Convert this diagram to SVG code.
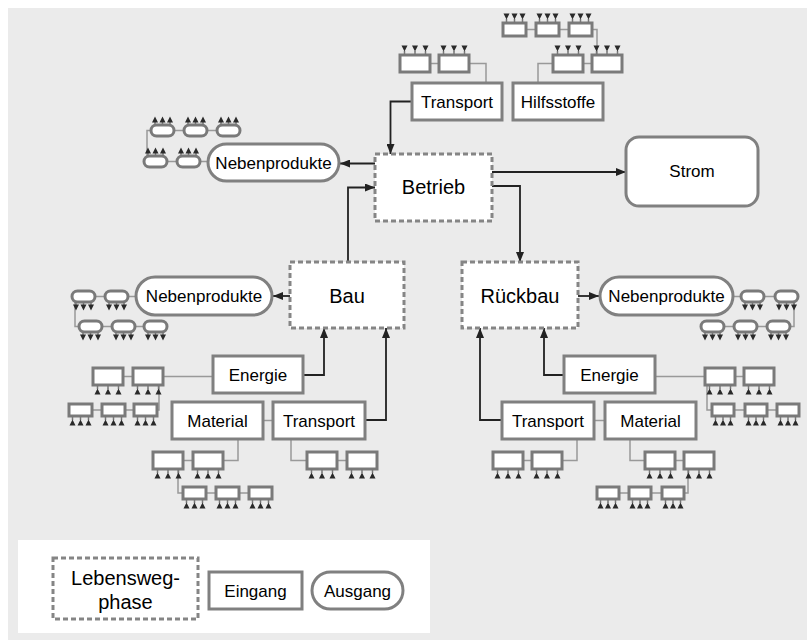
<svg xmlns="http://www.w3.org/2000/svg" xmlns:xlink="http://www.w3.org/1999/xlink" width="807" height="640" viewBox="0 0 807 640">
<style>
.bg{fill:#ebebeb}
.phase{fill:#fff;stroke:#858585;stroke-width:3;stroke-dasharray:5,3}
.box{fill:#fff;stroke:#808080;stroke-width:3}
.sb{fill:#fff;stroke:#7a7a7a;stroke-width:3}
.thin{fill:none;stroke:#999;stroke-width:1.5}
.arr{fill:none;stroke:#222;stroke-width:1.8;marker-end:url(#ah)}
.stem{stroke:#777;stroke-width:1.5}
.tri{fill:#2a2a2a}
text{font-family:"Liberation Sans",Arial,sans-serif;fill:#000;text-anchor:middle}
.t20{font-size:20px}
.t17{font-size:17px}
</style>
<defs>
<marker id="ah" markerWidth="10" markerHeight="8" refX="10" refY="4" orient="auto" markerUnits="userSpaceOnUse"><path d="M0,0 L10,4 L0,8 z" fill="#222"/></marker>
<g id="inTop"><line class="stem" x1="0" y1="0" x2="0" y2="-4"/><path class="tri" d="M-3,-9.5 L3,-9.5 L0,-3.5 z"/></g>
<g id="inBot"><line class="stem" x1="0" y1="0" x2="0" y2="4"/><path class="tri" d="M-3,9.5 L3,9.5 L0,3.5 z"/></g>
<g id="outTop"><line class="stem" x1="0" y1="0" x2="0" y2="-3"/><path class="tri" d="M-3,-2.5 L3,-2.5 L0,-8.5 z"/></g>
<g id="outBot"><line class="stem" x1="0" y1="0" x2="0" y2="3"/><path class="tri" d="M-3,2.5 L3,2.5 L0,8.5 z"/></g>
</defs>
<rect class="bg" x="8" y="8" width="799" height="632"/>

<g id="connectors">
<path class="arr" d="M412,101.5 H390.5 V154"/>
<path class="arr" d="M375,163.5 H340"/>
<path class="arr" d="M348,262 V187.5 H375"/>
<path class="arr" d="M492,172 H626"/>
<path class="arr" d="M492,186 H520 V262"/>
<path class="arr" d="M290,296 H273"/>
<path class="arr" d="M578,296 H599"/>
<path class="arr" d="M303,375 H324 V328"/>
<path class="arr" d="M365,420 H386 V328"/>
<path class="arr" d="M564,375 H544 V328"/>
<path class="arr" d="M502,420 H480 V328"/>
<path class="thin" d="M263,420.5 H273"/>
<path class="thin" d="M594,420.5 H605"/>
<path class="thin" d="M430,63.5 H439 M469,63.5 H486 V83"/>
<path class="thin" d="M583,63.5 H592 M553,63.5 H538 V83 M526,29.5 H536 M559,29.5 H569 M592,29.5 H597 V55"/>
<path class="thin" d="M167,161.5 H177 M200,161.5 H208 M174,130.5 H184 M207,130.5 H217 M151,130.5 H147 V156"/>
<path class="thin" d="M95,296.5 H105 M128,296.5 H136 M102,326.5 H112 M135,326.5 H144 M75,302 V326.5 H79"/>
<path class="thin" d="M732,296.5 H741 M764,296.5 H775 M724,326.5 H734 M757,326.5 H767 M794,302 V326.5 H790"/>
<path class="thin" d="M123,376.5 H133 M163,376.5 H213 M92,410 H102 M125,410 H134 M157,410 H159 V385"/>
<path class="thin" d="M183,460.5 H193 M223,460.5 H238 V439 M206,493 H216 M239,493 H249 M183,493 H178 V469"/>
<path class="thin" d="M337,460.5 H347 M307,460.5 H291 V439"/>
<path class="thin" d="M655,376.5 H705 M735,376.5 H744 M734,410 H745 M767,410 H777 M707,385 V410 H712"/>
<path class="thin" d="M523,460.5 H532 M562,460.5 H577 V439"/>
<path class="thin" d="M630,439 V460.5 H645 M675,460.5 H684 M619,493 H629 M651,493 H662 M684,493 H688 V469"/>
</g>

<g id="betrieb"><rect class="phase" x="375" y="154" width="117" height="67"/><text class="t20" x="433.5" y="194">Betrieb</text></g>
<g id="bau"><rect class="phase" x="290" y="262" width="114" height="66"/><text class="t20" x="347" y="303">Bau</text></g>
<g id="rueckbau"><rect class="phase" x="462" y="262" width="116" height="66"/><text class="t20" x="520" y="303">Rückbau</text></g>
<g id="strom"><rect class="box" x="626" y="137" width="132" height="69" rx="13"/><text class="t17" x="692" y="177">Strom</text></g>

<g id="neb-betrieb"><rect class="box" x="208" y="144" width="131" height="37" rx="18.5"/><text class="t17" x="273.5" y="168.5">Nebenprodukte</text></g>
<g id="neb-bau"><rect class="box" x="136" y="277" width="136" height="38" rx="19"/><text class="t17" x="204" y="302">Nebenprodukte</text></g>
<g id="neb-rueckbau"><rect class="box" x="600" y="277" width="133" height="38" rx="19"/><text class="t17" x="666.5" y="302">Nebenprodukte</text></g>

<g id="transport-betrieb"><rect class="box" x="412" y="83" width="90" height="37"/><text class="t17" x="457" y="107.5">Transport</text></g>
<g id="hilfsstoffe"><rect class="box" x="513" y="83" width="90" height="37"/><text class="t17" x="558" y="107.5">Hilfsstoffe</text></g>
<g id="energie-bau"><rect class="box" x="213" y="356" width="90" height="37"/><text class="t17" x="258" y="380.5">Energie</text></g>
<g id="material-bau"><rect class="box" x="172" y="402" width="91" height="37"/><text class="t17" x="217.5" y="426.5">Material</text></g>
<g id="transport-bau"><rect class="box" x="273" y="402" width="92" height="37"/><text class="t17" x="319" y="426.5">Transport</text></g>
<g id="energie-rueckbau"><rect class="box" x="564" y="356" width="91" height="37"/><text class="t17" x="609.5" y="380.5">Energie</text></g>
<g id="transport-rueckbau"><rect class="box" x="502" y="402" width="92" height="37"/><text class="t17" x="548" y="426.5">Transport</text></g>
<g id="material-rueckbau"><rect class="box" x="605" y="402" width="91" height="37"/><text class="t17" x="650.5" y="426.5">Material</text></g>

<g id="sub-transport-betrieb">
<rect class="sb" x="400" y="55" width="30" height="17"/><use href="#inTop" x="404.5" y="55"/><use href="#inTop" x="415" y="55"/><use href="#inTop" x="425.5" y="55"/>
<rect class="sb" x="439" y="55" width="30" height="17"/><use href="#inTop" x="443.5" y="55"/><use href="#inTop" x="454" y="55"/><use href="#inTop" x="464.5" y="55"/>
</g>
<g id="sub-hilfsstoffe">
<rect class="sb" x="553" y="55" width="30" height="17"/><use href="#inTop" x="557.5" y="55"/><use href="#inTop" x="568" y="55"/><use href="#inTop" x="578.5" y="55"/>
<rect class="sb" x="592" y="55" width="30" height="17"/><use href="#inTop" x="596.5" y="55"/><use href="#inTop" x="607" y="55"/><use href="#inTop" x="617.5" y="55"/>
<rect class="sb" x="503" y="23" width="23" height="13"/><use href="#inTop" x="506.5" y="23"/><use href="#inTop" x="514.5" y="23"/><use href="#inTop" x="522.5" y="23"/>
<rect class="sb" x="536" y="23" width="23" height="13"/><use href="#inTop" x="539.5" y="23"/><use href="#inTop" x="547.5" y="23"/><use href="#inTop" x="555.5" y="23"/>
<rect class="sb" x="569" y="23" width="23" height="13"/><use href="#inTop" x="572.5" y="23"/><use href="#inTop" x="580.5" y="23"/><use href="#inTop" x="588.5" y="23"/>
</g>
<g id="sub-neb-betrieb">
<rect class="sb" x="144" y="156" width="23" height="11" rx="5.5"/><use href="#outTop" x="148" y="156"/><use href="#outTop" x="155.5" y="156"/><use href="#outTop" x="163" y="156"/>
<rect class="sb" x="177" y="156" width="23" height="11" rx="5.5"/><use href="#outTop" x="181" y="156"/><use href="#outTop" x="188.5" y="156"/><use href="#outTop" x="196" y="156"/>
<rect class="sb" x="151" y="125" width="23" height="11" rx="5.5"/><use href="#outTop" x="155" y="125"/><use href="#outTop" x="162.5" y="125"/><use href="#outTop" x="170" y="125"/>
<rect class="sb" x="184" y="125" width="23" height="11" rx="5.5"/><use href="#outTop" x="188" y="125"/><use href="#outTop" x="195.5" y="125"/><use href="#outTop" x="203" y="125"/>
<rect class="sb" x="217" y="125" width="23" height="11" rx="5.5"/><use href="#outTop" x="221" y="125"/><use href="#outTop" x="228.5" y="125"/><use href="#outTop" x="236" y="125"/>
</g>
<g id="sub-neb-bau">
<rect class="sb" x="72" y="291" width="23" height="11" rx="5.5"/><use href="#outBot" x="76" y="302"/><use href="#outBot" x="83.5" y="302"/><use href="#outBot" x="91" y="302"/>
<rect class="sb" x="105" y="291" width="23" height="11" rx="5.5"/><use href="#outBot" x="109" y="302"/><use href="#outBot" x="116.5" y="302"/><use href="#outBot" x="124" y="302"/>
<rect class="sb" x="79" y="321" width="23" height="11" rx="5.5"/><use href="#outBot" x="83" y="332"/><use href="#outBot" x="90.5" y="332"/><use href="#outBot" x="98" y="332"/>
<rect class="sb" x="112" y="321" width="23" height="11" rx="5.5"/><use href="#outBot" x="116" y="332"/><use href="#outBot" x="123.5" y="332"/><use href="#outBot" x="131" y="332"/>
<rect class="sb" x="144" y="321" width="23" height="11" rx="5.5"/><use href="#outBot" x="148" y="332"/><use href="#outBot" x="155.5" y="332"/><use href="#outBot" x="163" y="332"/>
</g>
<g id="sub-neb-rueckbau">
<rect class="sb" x="741" y="291" width="23" height="11" rx="5.5"/><use href="#outBot" x="745" y="302"/><use href="#outBot" x="752.5" y="302"/><use href="#outBot" x="760" y="302"/>
<rect class="sb" x="775" y="291" width="23" height="11" rx="5.5"/><use href="#outBot" x="779" y="302"/><use href="#outBot" x="786.5" y="302"/><use href="#outBot" x="794" y="302"/>
<rect class="sb" x="701" y="321" width="23" height="11" rx="5.5"/><use href="#outBot" x="705" y="332"/><use href="#outBot" x="712.5" y="332"/><use href="#outBot" x="720" y="332"/>
<rect class="sb" x="734" y="321" width="23" height="11" rx="5.5"/><use href="#outBot" x="738" y="332"/><use href="#outBot" x="745.5" y="332"/><use href="#outBot" x="753" y="332"/>
<rect class="sb" x="767" y="321" width="23" height="11" rx="5.5"/><use href="#outBot" x="771" y="332"/><use href="#outBot" x="778.5" y="332"/><use href="#outBot" x="786" y="332"/>
</g>
<g id="sub-energie-bau">
<rect class="sb" x="93" y="368" width="30" height="17"/><use href="#inBot" x="97.5" y="385"/><use href="#inBot" x="108" y="385"/><use href="#inBot" x="118.5" y="385"/>
<rect class="sb" x="133" y="368" width="30" height="17"/><use href="#inBot" x="137.5" y="385"/><use href="#inBot" x="148" y="385"/><use href="#inBot" x="158.5" y="385"/>
<rect class="sb" x="69" y="404" width="23" height="12"/><use href="#inBot" x="72.5" y="416"/><use href="#inBot" x="80.5" y="416"/><use href="#inBot" x="88.5" y="416"/>
<rect class="sb" x="102" y="404" width="23" height="12"/><use href="#inBot" x="105.5" y="416"/><use href="#inBot" x="113.5" y="416"/><use href="#inBot" x="121.5" y="416"/>
<rect class="sb" x="134" y="404" width="23" height="12"/><use href="#inBot" x="137.5" y="416"/><use href="#inBot" x="145.5" y="416"/><use href="#inBot" x="153.5" y="416"/>
</g>
<g id="sub-material-bau">
<rect class="sb" x="153" y="452" width="30" height="17"/><use href="#inBot" x="157.5" y="469"/><use href="#inBot" x="168" y="469"/><use href="#inBot" x="178.5" y="469"/>
<rect class="sb" x="193" y="452" width="30" height="17"/><use href="#inBot" x="197.5" y="469"/><use href="#inBot" x="208" y="469"/><use href="#inBot" x="218.5" y="469"/>
<rect class="sb" x="183" y="487" width="23" height="12"/><use href="#inBot" x="186.5" y="499"/><use href="#inBot" x="194.5" y="499"/><use href="#inBot" x="202.5" y="499"/>
<rect class="sb" x="216" y="487" width="23" height="12"/><use href="#inBot" x="219.5" y="499"/><use href="#inBot" x="227.5" y="499"/><use href="#inBot" x="235.5" y="499"/>
<rect class="sb" x="249" y="487" width="23" height="12"/><use href="#inBot" x="252.5" y="499"/><use href="#inBot" x="260.5" y="499"/><use href="#inBot" x="268.5" y="499"/>
</g>
<g id="sub-transport-bau">
<rect class="sb" x="307" y="452" width="30" height="17"/><use href="#inBot" x="311.5" y="469"/><use href="#inBot" x="322" y="469"/><use href="#inBot" x="332.5" y="469"/>
<rect class="sb" x="347" y="452" width="30" height="17"/><use href="#inBot" x="351.5" y="469"/><use href="#inBot" x="362" y="469"/><use href="#inBot" x="372.5" y="469"/>
</g>
<g id="sub-energie-rueckbau">
<rect class="sb" x="705" y="368" width="30" height="17"/><use href="#inBot" x="709.5" y="385"/><use href="#inBot" x="720" y="385"/><use href="#inBot" x="730.5" y="385"/>
<rect class="sb" x="744" y="368" width="30" height="17"/><use href="#inBot" x="748.5" y="385"/><use href="#inBot" x="759" y="385"/><use href="#inBot" x="769.5" y="385"/>
<rect class="sb" x="712" y="404" width="22" height="12"/><use href="#inBot" x="715.5" y="416"/><use href="#inBot" x="723" y="416"/><use href="#inBot" x="730.5" y="416"/>
<rect class="sb" x="745" y="404" width="22" height="12"/><use href="#inBot" x="748.5" y="416"/><use href="#inBot" x="756" y="416"/><use href="#inBot" x="763.5" y="416"/>
<rect class="sb" x="777" y="404" width="22" height="12"/><use href="#inBot" x="780.5" y="416"/><use href="#inBot" x="788" y="416"/><use href="#inBot" x="795.5" y="416"/>
</g>
<g id="sub-transport-rueckbau">
<rect class="sb" x="493" y="452" width="30" height="17"/><use href="#inBot" x="497.5" y="469"/><use href="#inBot" x="508" y="469"/><use href="#inBot" x="518.5" y="469"/>
<rect class="sb" x="532" y="452" width="30" height="17"/><use href="#inBot" x="536.5" y="469"/><use href="#inBot" x="547" y="469"/><use href="#inBot" x="557.5" y="469"/>
</g>
<g id="sub-material-rueckbau">
<rect class="sb" x="645" y="452" width="30" height="17"/><use href="#inBot" x="649.5" y="469"/><use href="#inBot" x="660" y="469"/><use href="#inBot" x="670.5" y="469"/>
<rect class="sb" x="684" y="452" width="30" height="17"/><use href="#inBot" x="688.5" y="469"/><use href="#inBot" x="699" y="469"/><use href="#inBot" x="709.5" y="469"/>
<rect class="sb" x="597" y="487" width="22" height="12"/><use href="#inBot" x="600.5" y="499"/><use href="#inBot" x="608" y="499"/><use href="#inBot" x="615.5" y="499"/>
<rect class="sb" x="629" y="487" width="22" height="12"/><use href="#inBot" x="632.5" y="499"/><use href="#inBot" x="640" y="499"/><use href="#inBot" x="647.5" y="499"/>
<rect class="sb" x="662" y="487" width="22" height="12"/><use href="#inBot" x="665.5" y="499"/><use href="#inBot" x="673" y="499"/><use href="#inBot" x="680.5" y="499"/>
</g>

<g id="legend">
<rect x="18" y="540" width="412" height="93" fill="#fff"/>
<rect class="phase" x="53" y="558" width="145" height="61"/>
<text class="t20" x="125.5" y="585">Lebensweg-</text>
<text class="t20" x="125.5" y="609">phase</text>
<rect class="box" x="209" y="572" width="93" height="37"/>
<text class="t17" x="255.5" y="597">Eingang</text>
<rect class="box" x="312" y="572" width="91" height="37" rx="18.5"/>
<text class="t17" x="357.5" y="597">Ausgang</text>
</g>
</svg>
